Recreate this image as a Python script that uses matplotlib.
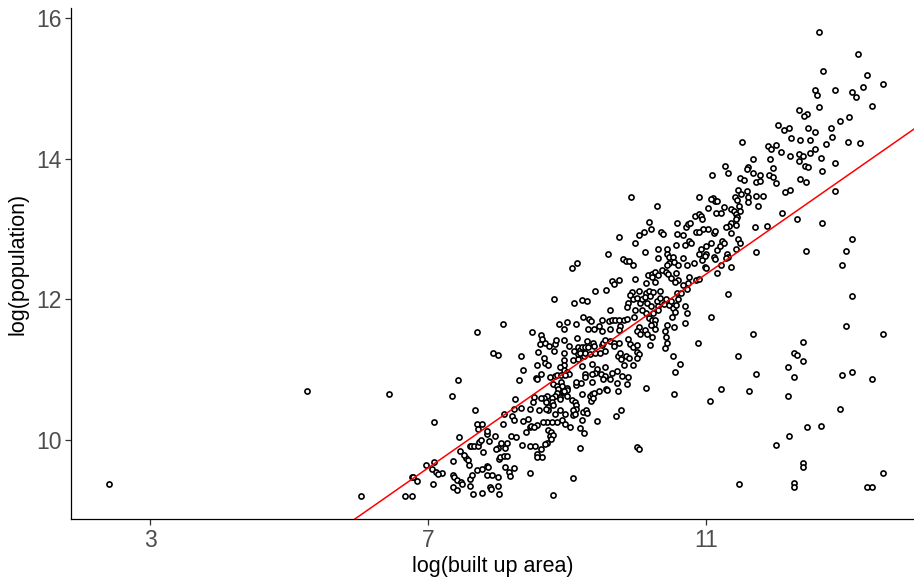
import matplotlib
matplotlib.use("Agg")
from matplotlib import pyplot as plt

plt.rcParams['font.family'] = ['Liberation Sans', 'DejaVu Sans']

# (log built up area, log population)
far_outliers = [(2.41, 9.38), (5.26, 10.69), (6.43, 10.65), (6.04, 9.20),
                (8.08, 11.65), (7.70, 11.54)]

low_cluster = [
    (7.93, 11.23), (8.00, 11.21), (8.33, 11.19), (8.58, 11.25), (7.43, 10.85),
    (7.34, 10.62), (7.08, 10.26), (7.68, 10.42), (7.45, 10.04), (6.97, 9.64),
    (7.09, 9.69), (7.05, 9.59), (7.11, 9.54), (7.20, 9.53), (7.14, 9.51),
    (6.76, 9.48), (6.78, 9.48), (6.84, 9.41), (6.66, 9.21), (6.77, 9.20),
    (7.07, 9.37), (7.35, 9.50), (7.37, 9.48), (7.42, 9.43), (7.47, 9.40),
    (7.49, 9.37), (7.35, 9.33), (7.41, 9.29), (7.60, 9.34), (7.60, 9.44),
    (7.63, 9.50), (7.70, 9.57), (7.77, 9.59), (7.85, 9.63), (7.86, 9.61),
    (7.84, 9.50), (7.92, 9.50), (8.00, 9.47), (8.10, 9.61), (8.16, 9.54),
    (8.17, 9.49), (8.24, 9.60), (8.47, 9.53), (7.64, 9.23), (7.78, 9.24),
    (7.89, 9.33), (7.91, 9.30), (8.02, 9.23), (8.01, 9.34), (7.36, 9.70),
    (7.46, 9.84), (7.54, 9.74), (7.52, 9.78), (7.57, 9.71), (7.59, 9.65),
    (7.79, 9.83), (7.60, 9.91), (7.62, 9.91), (7.66, 9.91), (7.71, 9.91),
    (7.73, 9.97), (7.76, 10.00), (7.87, 9.99), (7.96, 10.05), (8.00, 9.89),
    (7.98, 9.87), (8.02, 9.73), (8.03, 9.76), (8.09, 9.77), (8.14, 9.77),
    (8.05, 9.96), (8.10, 9.88), (8.14, 9.95), (8.19, 10.05), (8.27, 10.04),
    (7.70, 10.22), (7.77, 10.23), (7.71, 10.15), (7.84, 10.08), (7.85, 10.12),
    (8.07, 10.23), (8.09, 10.37), (8.20, 10.34), (8.23, 10.29), (8.24, 10.44),
    (8.25, 10.58), (8.33, 10.46), (8.36, 10.27), (8.44, 10.30), (8.46, 10.44),
    (8.52, 10.61), (8.51, 10.54), (8.59, 10.42), (8.57, 10.21), (8.41, 10.11),
    (8.46, 10.18), (8.48, 10.20), (8.52, 10.19), (8.35, 9.93), (8.46, 9.92),
    (8.54, 9.91), (8.56, 9.80), (8.56, 9.76), (8.31, 10.85), (8.37, 11.00),
    (8.56, 11.07), (8.55, 10.88), (8.57, 10.87),
]

mid_cluster = [
    (8.61, 11.36), (8.68, 11.38), (8.74, 11.33), (8.82, 11.36), (8.84, 11.42),
    (8.96, 11.42), (9.03, 11.33), (9.10, 11.27), (9.15, 11.32), (9.18, 11.28),
    (9.22, 11.32), (9.26, 11.32), (9.30, 11.32), (9.28, 11.40), (9.37, 11.38),
    (9.39, 11.33), (9.50, 11.35), (9.51, 11.38), (9.55, 11.42), (9.62, 11.40),
    (9.68, 11.38), (9.68, 11.33), (9.75, 11.38), (9.90, 11.36), (9.94, 11.32),
    (10.01, 11.35), (10.19, 11.35), (10.41, 11.31), (10.44, 11.38), (10.88, 11.38),
    (8.66, 11.16), (8.68, 11.10), (8.73, 11.06), (8.81, 11.26), (8.96, 11.24),
    (8.95, 11.14), (8.96, 11.06), (9.09, 11.14), (9.16, 11.15), (9.15, 11.22),
    (9.19, 11.23), (9.24, 11.19), (9.25, 11.23), (9.22, 11.05), (9.35, 11.08),
    (9.33, 11.22), (9.40, 11.23), (9.47, 11.23), (9.55, 11.27), (9.73, 11.19),
    (9.78, 11.15), (9.76, 11.23), (9.85, 11.20), (9.89, 11.17), (10.01, 11.25),
    (10.04, 11.22), (10.00, 11.17), (9.81, 11.07), (9.95, 11.07), (9.55, 11.04),
    (9.43, 11.01), (9.40, 10.95), (9.48, 10.94), (9.36, 10.94), (9.25, 10.94),
    (9.25, 10.89), (9.55, 10.91), (9.64, 10.95), (9.72, 10.98), (9.52, 10.86),
    (9.62, 10.86), (9.79, 10.91), (9.87, 10.89), (9.86, 10.80), (9.71, 10.81),
    (9.35, 10.83), (9.20, 10.81), (9.13, 10.78), (9.12, 10.83), (8.63, 10.94),
    (8.75, 10.90), (8.82, 10.91), (8.85, 10.93), (8.91, 10.93), (8.96, 10.99),
    (8.99, 10.96), (9.02, 10.94), (8.97, 10.92), (8.90, 11.04), (8.80, 10.79),
    (8.85, 10.76), (8.91, 10.82), (8.93, 10.76), (8.99, 10.74), (9.00, 10.71),
    (8.87, 10.72), (8.94, 10.68), (8.86, 10.67), (8.83, 10.63), (8.90, 10.61),
    (8.78, 10.60), (8.71, 10.63), (8.67, 10.60), (8.62, 10.60), (8.69, 10.54),
    (8.78, 10.54), (8.80, 10.49), (8.72, 10.47), (8.73, 10.42), (8.69, 10.44),
    (8.89, 10.58), (8.96, 10.70), (8.99, 10.62), (9.07, 10.57), (9.11, 10.54),
    (9.12, 10.49), (9.13, 10.44), (9.08, 10.42), (9.21, 10.66), (9.33, 10.63),
    (9.34, 10.55), (9.36, 10.66), (9.37, 10.59), (9.39, 10.67), (9.46, 10.70),
    (9.56, 10.73), (9.57, 10.71), (9.73, 10.69), (10.14, 10.74), (10.53, 10.66),
    (10.55, 10.97), (10.63, 11.08), (10.52, 11.19), (11.05, 10.56), (8.82, 10.37),
    (8.89, 10.42), (8.97, 10.37), (9.09, 10.35), (9.11, 10.37), (9.23, 10.40),
    (9.27, 10.42), (9.28, 10.38), (9.43, 10.27), (9.21, 10.28), (9.78, 10.42),
    (9.70, 10.34), (8.92, 10.28), (8.97, 10.23), (8.86, 10.26), (8.78, 10.26),
    (8.71, 10.26), (8.65, 10.26), (8.73, 10.14), (8.76, 10.11), (8.75, 10.05),
    (8.80, 10.07), (8.76, 10.02), (8.71, 9.96), (8.68, 9.94), (8.64, 9.76),
    (8.62, 9.87), (9.04, 10.19), (9.18, 10.17), (9.24, 10.10), (9.19, 9.88),
    (10.01, 9.90), (10.03, 9.87), (9.08, 9.46), (8.80, 9.22),
]

core_cluster = [
    (10.17, 13.10), (10.58, 13.09), (9.75, 12.88), (10.04, 12.91), (10.10, 12.96),
    (10.21, 13.00), (10.35, 12.96), (10.38, 12.93), (10.58, 12.93), (9.97, 12.80),
    (10.12, 12.67), (10.31, 12.72), (10.43, 12.71), (10.44, 12.65), (10.56, 12.77),
    (9.59, 12.64), (9.80, 12.57), (9.85, 12.55), (9.89, 12.55), (9.94, 12.48),
    (10.30, 12.58), (10.46, 12.60), (10.52, 12.60), (10.47, 12.52), (10.54, 12.53),
    (10.44, 12.48), (10.59, 12.49), (9.07, 12.44), (9.14, 12.51), (10.16, 12.34),
    (10.22, 12.36), (10.26, 12.39), (10.30, 12.34), (10.37, 12.42), (10.42, 12.39),
    (10.45, 12.36), (10.56, 12.37), (10.60, 12.27), (10.55, 12.25), (10.49, 12.30),
    (10.26, 12.25), (10.22, 12.31), (10.13, 12.23), (9.98, 12.29), (9.64, 12.26),
    (9.68, 12.22), (9.74, 12.27), (9.40, 12.11), (9.56, 12.13), (8.81, 12.01),
    (9.10, 11.94), (9.22, 11.99), (9.29, 11.97), (9.62, 11.85), (9.93, 12.10),
    (10.03, 12.11), (10.14, 12.09), (10.17, 12.12), (10.23, 12.10), (10.34, 12.12),
    (9.90, 12.06), (9.95, 12.00), (10.00, 12.02), (9.87, 11.95), (9.86, 11.89),
    (10.05, 11.94), (10.08, 12.00), (10.12, 12.03), (10.19, 12.05), (10.15, 11.94),
    (10.20, 11.91), (10.29, 11.97), (10.30, 11.90), (10.34, 12.02), (10.39, 11.93),
    (10.42, 12.01), (10.46, 11.92), (10.49, 11.98), (10.52, 11.88), (10.55, 11.82),
    (10.56, 11.92), (10.58, 12.09), (10.60, 12.01), (10.51, 11.75), (10.53, 11.61),
    (10.31, 11.85), (10.24, 11.81), (10.14, 11.80), (10.07, 11.85), (9.98, 11.84),
    (9.96, 11.75), (10.17, 11.74), (10.22, 11.70), (10.26, 11.70), (10.25, 11.65),
    (10.20, 11.63), (10.27, 11.58), (10.12, 11.56), (10.15, 11.51), (10.22, 11.47),
    (10.03, 11.61), (10.00, 11.55), (10.05, 11.50), (10.40, 11.55), (10.44, 11.63),
    (10.42, 11.47), (9.32, 11.72), (9.34, 11.69), (9.50, 11.70), (9.46, 11.62),
    (9.60, 11.69), (9.65, 11.71), (9.69, 11.70), (9.75, 11.70), (9.81, 11.71),
    (9.86, 11.72), (9.76, 11.62), (9.74, 11.56), (9.62, 11.58), (9.50, 11.55),
    (9.38, 11.58), (9.30, 11.57), (9.23, 11.75), (9.12, 11.65), (8.99, 11.68),
    (8.88, 11.65), (8.96, 11.57), (9.14, 11.45), (8.49, 11.53), (8.63, 11.49),
    (8.64, 11.43), (9.88, 11.44), (9.92, 13.46), (10.29, 13.33),
]

upper_cluster = [
    (11.72, 13.67), (11.78, 13.68), (12.00, 13.65), (12.13, 13.52), (12.20, 13.55),
    (12.43, 13.67), (12.85, 13.54), (10.90, 13.46), (11.10, 13.44), (11.12, 13.40),
    (11.07, 13.42), (11.15, 13.39), (11.41, 13.46), (11.45, 13.41), (11.60, 13.46),
    (11.60, 13.38), (11.72, 13.47), (11.82, 13.47), (11.46, 13.55), (11.50, 13.49),
    (11.58, 13.54), (11.74, 13.32), (11.47, 13.33), (11.02, 13.29), (11.14, 13.22),
    (11.22, 13.23), (11.25, 13.31), (11.35, 13.28), (11.40, 13.25), (11.43, 13.21),
    (11.45, 13.17), (11.49, 13.26), (11.43, 13.14), (11.35, 13.08), (11.33, 13.04),
    (11.28, 13.02), (11.43, 13.05), (11.35, 12.94), (10.84, 13.18), (10.89, 13.21),
    (10.93, 13.19), (10.94, 13.14), (11.02, 13.00), (11.11, 12.94), (11.13, 12.97),
    (10.95, 13.00), (10.85, 12.95), (10.89, 12.96), (10.71, 13.03), (10.74, 13.07),
    (10.76, 13.09), (10.66, 12.91), (10.69, 12.77), (10.75, 12.83), (10.78, 12.80),
    (11.07, 12.80), (10.92, 12.72), (10.90, 12.65), (10.99, 12.75), (11.00, 12.64),
    (10.98, 12.62), (10.94, 12.56), (11.15, 12.70), (11.20, 12.76), (11.23, 12.83),
    (11.25, 12.80), (11.30, 12.65), (11.31, 12.60), (11.29, 12.59), (11.46, 12.85),
    (11.49, 12.80), (11.43, 12.72), (11.11, 12.60), (11.13, 12.57), (10.67, 12.59),
    (10.73, 12.49), (10.82, 12.51), (10.98, 12.46), (11.00, 12.45), (11.22, 12.48),
    (11.35, 12.46), (11.16, 12.38), (10.75, 12.32), (10.85, 12.28), (10.89, 12.29),
    (10.74, 12.23), (10.66, 12.20), (10.72, 12.14), (10.64, 12.09), (10.69, 11.90),
    (10.72, 11.80), (10.70, 11.66), (11.07, 11.75), (11.32, 12.07), (11.70, 13.03),
    (11.88, 13.04), (11.72, 12.67),
]

top_cluster = [
    (12.63, 15.80), (13.19, 15.48), (12.68, 15.24), (13.31, 15.19), (13.54, 15.06),
    (13.25, 15.02), (12.56, 14.97), (12.86, 14.97), (13.10, 14.94), (12.59, 14.91),
    (13.16, 14.88), (12.34, 14.69), (12.63, 14.73), (13.39, 14.74), (12.45, 14.64),
    (12.41, 14.60), (12.92, 14.54), (13.06, 14.59), (12.04, 14.47), (12.12, 14.41),
    (12.19, 14.44), (12.46, 14.43), (12.56, 14.38), (12.79, 14.43), (12.81, 14.31),
    (12.22, 14.29), (12.35, 14.27), (12.50, 14.26), (11.51, 14.23), (11.89, 14.18),
    (12.01, 14.19), (11.93, 14.13), (12.08, 14.10), (12.20, 14.04), (12.34, 14.07),
    (12.40, 14.03), (12.49, 14.08), (12.57, 14.13), (12.72, 14.20), (13.04, 14.23),
    (13.22, 14.22), (12.65, 14.01), (11.68, 14.00), (11.92, 14.00), (12.33, 13.96),
    (12.42, 13.90), (12.46, 13.88), (12.85, 13.94), (11.27, 13.90), (11.60, 13.88),
    (11.59, 13.85), (11.96, 13.86), (12.66, 13.82), (11.08, 13.77), (11.31, 13.79),
    (11.67, 13.79), (11.78, 13.76), (11.48, 13.73), (11.91, 13.76), (11.96, 13.74),
    (12.35, 13.71), (11.54, 13.70),
]

below_line = [
    (12.09, 13.23), (12.30, 13.14), (12.66, 13.09), (12.43, 12.68), (13.10, 12.86),
    (13.01, 12.69), (12.95, 12.48), (13.10, 12.04), (13.01, 11.62),
    (11.67, 11.50), (13.54, 11.50), (12.39, 11.39), (11.46, 11.19), (12.27, 11.23),
    (12.31, 11.21), (12.39, 11.12), (12.18, 11.04), (11.72, 10.94), (12.27, 10.90),
    (12.95, 10.92), (13.10, 10.96), (13.39, 10.87), (11.22, 10.73), (11.61, 10.70),
    (12.18, 10.62), (12.92, 10.44), (12.45, 10.18), (12.65, 10.20), (12.19, 10.06),
    (12.01, 9.93), (12.39, 9.67), (12.39, 9.62), (13.54, 9.53), (11.47, 9.37),
    (12.27, 9.39), (12.27, 9.33), (13.31, 9.33), (13.39, 9.33),
]

# fitted line: intercept, slope
fit = (4.78, 0.689)

groups = [far_outliers, low_cluster, mid_cluster, core_cluster,
          upper_cluster, top_cluster, below_line]
pts = [p for g in groups for p in g]
xs = [p[0] for p in pts]
ys = [p[1] for p in pts]

fig = plt.figure(figsize=(9.14, 5.80), dpi=100)
ax = fig.add_axes([71 / 914, 61 / 580, 843 / 914, 511 / 580])

ax.plot(xs, ys, linestyle='none', marker='o', markersize=3.7,
        markerfacecolor='white', markeredgecolor='black', markeredgewidth=1.2,
        zorder=3)
ax.axline((0, fit[0]), slope=fit[1], color='#FF0000', lw=1.1, zorder=4)

ax.set_xlim(1.86, 13.99)
ax.set_ylim(8.876, 16.14)
ax.set_xticks([3, 7, 11])
ax.set_yticks([10, 12, 14, 16])

for side in ['top', 'right']:
    ax.spines[side].set_visible(False)
for side in ['left', 'bottom']:
    ax.spines[side].set_linewidth(0.9)
    ax.spines[side].set_color('black')

ax.tick_params(axis='both', direction='out', length=4, width=0.9,
               color='#333333', labelsize=16.5, labelcolor='#4D4D4D', pad=3)
ax.set_xlabel('log(built up area)', fontsize=15.5, color='black', labelpad=3)
ax.set_ylabel('log(population)', fontsize=15.5, color='black', labelpad=5)

fig.savefig('out.png', dpi=100)
